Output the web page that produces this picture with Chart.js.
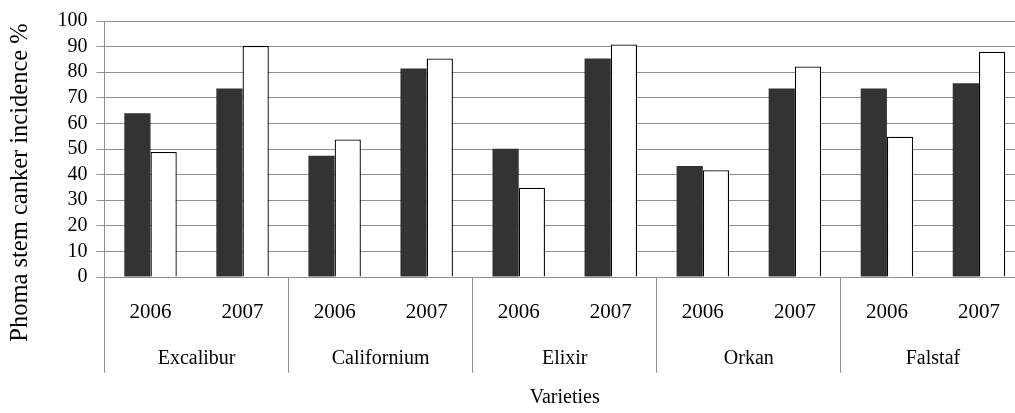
<!DOCTYPE html>
<html>
<head>
<meta charset="utf-8">
<script src="https://cdn.jsdelivr.net/npm/chart.js@4/dist/chart.umd.min.js"></script>
<style>
  html, body { margin: 0; padding: 0; background: #fff; overflow: hidden; }
  #wrap { position: relative; width: 1030px; height: 413px; }
</style>
</head>
<body>
<div id="wrap"><canvas id="c"></canvas></div>
<script>
// data
const varieties = ['Excalibur', 'Californium', 'Elixir', 'Orkan', 'Falstaf'];
const years = ['2006', '2007'];
const darkSeries = [64.0, 73.6, 47.4, 81.4, 50.1, 85.4, 43.4, 73.6, 73.6, 75.7];
const whiteSeries = [48.8, 90.3, 53.7, 85.4, 34.9, 90.8, 41.7, 82.2, 54.8, 88.0];
const yTickValues = [0, 10, 20, 30, 40, 50, 60, 70, 80, 90, 100];

// one year label per bar group
const yearLabels = [];
varieties.forEach(() => years.forEach(y => yearLabels.push(y)));

const GRID = '#8f8f8f';
const SERIF = "'Liberation Serif', 'Times New Roman', serif";
const FONT = {family: SERIF, size: 20};
Chart.defaults.font.family = SERIF;
Chart.defaults.color = '#000';

// Excel centres the y title over the plot plus the category label band
const yTitleSpan = {
  id: 'yTitleSpan',
  afterLayout(chart) {
    chart.scales.y.bottom = chart.scales.x2.bottom - 68;
  }
};

new Chart(document.getElementById('c'), {
  type: 'bar',
  data: {
    labels: yearLabels,
    datasets: [
      {label: 'a', data: darkSeries, backgroundColor: '#333333', borderWidth: 0,
       categoryPercentage: 0.57, barPercentage: 1},
      {label: 'b', data: whiteSeries, backgroundColor: '#ffffff', borderColor: '#000000', borderWidth: 1.3,
       categoryPercentage: 0.57, barPercentage: 1}
    ]
  },
  options: {
    responsive: true,
    maintainAspectRatio: false,
    animation: false,
    layout: {padding: {left: 4, right: 5, top: 19, bottom: 1}},
    plugins: {legend: {display: false}, tooltip: {enabled: false}},
    scales: {
      y: {
        min: 0, max: 100,
        afterBuildTicks: s => { s.ticks = yTickValues.map(v => ({value: v})); },
        ticks: {font: FONT, padding: 9, color: '#000', autoSkip: false},
        grid: {color: GRID, tickLength: 8},
        border: {color: GRID},
        title: {display: true, text: 'Phoma stem canker incidence %', font: {family: SERIF, size: 24.5},
                color: '#000', padding: {top: 1.8, bottom: 13.3}}
      },
      x: {
        weight: 0,
        ticks: {font: {family: SERIF, size: 21}, padding: -73.6, autoSkip: false, maxRotation: 0, color: '#000'},
        grid: {
          offset: true, drawOnChartArea: false, tickLength: 96,
          color: c => (c.index % 2 === 0 ? GRID : 'rgba(0,0,0,0)')
        },
        border: {color: GRID},
        afterFit: s => { s.height = 47; }
      },
      x2: {
        type: 'category',
        position: 'bottom',
        weight: 1,
        offset: true,
        labels: varieties,
        ticks: {font: FONT, padding: 23, autoSkip: false, maxRotation: 0, color: '#000'},
        grid: {display: false, drawTicks: false},
        border: {display: false},
        title: {display: true, text: 'Varieties', font: FONT, color: '#000', padding: {top: 0, bottom: 2}},
        afterFit: s => { s.height = 88; }
      }
    }
  },
  plugins: [yTitleSpan]
});
</script>
</body>
</html>
